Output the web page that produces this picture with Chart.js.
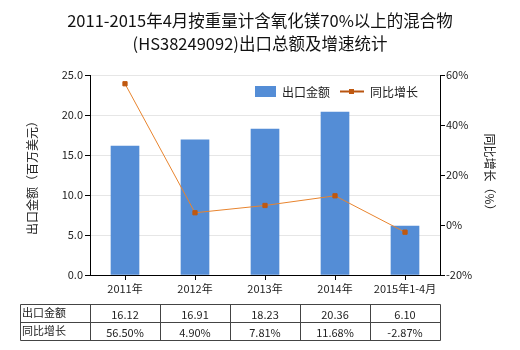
<!DOCTYPE html>
<html>
<head>
<meta charset="utf-8">
<script src="https://cdn.jsdelivr.net/npm/chart.js@4.4.1/dist/chart.umd.min.js"></script>
<style>
  html, body { margin: 0; padding: 0; background: #fff; }
  #wrap { width: 520px; height: 350px; position: relative; }
</style>
</head>
<body>
<div id="wrap"><canvas id="chart" width="520" height="350"></canvas></div>
<script>
const categories = ['2011年', '2012年', '2013年', '2014年', '2015年1-4月'];
const exportValues = [16.12, 16.91, 18.23, 20.36, 6.10];
const growthValues = [56.50, 4.90, 7.81, 11.68, -2.87];
const titleLines = ['2011-2015年4月按重量计含氧化镁70%以上的混合物', '(HS38249092)出口总额及增速统计'];
const seriesNames = ['出口金额', '同比增长'];

const FONT = '"Noto Sans CJK SC", "DejaVu Sans", sans-serif';
const BAR_COLOR = '#548dd6';
const LINE_COLOR = '#e8842e';
const POINT_COLOR = '#c0580f';

// title, legend and the data table under the axis
const extras = {
    id: 'extras',
    afterDraw(chart) {
        const ctx = chart.ctx;
        const x = chart.scales.x;
        ctx.save();

        ctx.fillStyle = '#111';
        ctx.font = '16.5px ' + FONT;
        ctx.textAlign = 'center';
        ctx.textBaseline = 'middle';
        ctx.fillText(titleLines[0], 260, 21);
        ctx.fillText(titleLines[1], 260, 44);

        // legend
        ctx.font = '12px ' + FONT;
        ctx.textAlign = 'left';
        ctx.fillStyle = BAR_COLOR;
        ctx.fillRect(255, 86, 21, 11);
        ctx.fillStyle = '#222';
        ctx.fillText(seriesNames[0], 282, 92);
        ctx.strokeStyle = '#b95510';
        ctx.lineWidth = 2;
        ctx.beginPath();
        ctx.moveTo(340, 91.5);
        ctx.lineTo(364, 91.5);
        ctx.stroke();
        ctx.fillStyle = POINT_COLOR;
        ctx.fillRect(349, 89, 5, 5);
        ctx.fillStyle = '#222';
        ctx.fillText(seriesNames[1], 370, 92);

        // table
        const top = 304.5, mid = 322.5, bottom = 340.5;
        const left = 20.5, step = x.getPixelForValue(1) - x.getPixelForValue(0);
        const right = Math.round(x.getPixelForValue(categories.length - 1) + step / 2) + 0.5;
        ctx.strokeStyle = '#444';
        ctx.lineWidth = 1;
        ctx.beginPath();
        [top, mid, bottom].forEach(y => { ctx.moveTo(left, y); ctx.lineTo(right, y); });
        ctx.moveTo(left, top); ctx.lineTo(left, bottom);
        for (let i = 0; i < categories.length; i++) {
            const cx = Math.round(x.getPixelForValue(i) - step / 2) + 0.5;
            ctx.moveTo(cx, top); ctx.lineTo(cx, bottom);
        }
        ctx.moveTo(right, top); ctx.lineTo(right, bottom);
        ctx.stroke();

        ctx.font = '11px ' + FONT;
        ctx.fillStyle = '#222';
        ctx.textAlign = 'left';
        ctx.fillText(seriesNames[0], 22, 313);
        ctx.fillText(seriesNames[1], 22, 331);
        ctx.textAlign = 'center';
        for (let i = 0; i < categories.length; i++) {
            const cx = x.getPixelForValue(i);
            ctx.fillText(exportValues[i].toFixed(2), cx, 315);
            ctx.fillText(growthValues[i].toFixed(2) + '%', cx, 333);
        }
        ctx.restore();
    }
};

new Chart(document.getElementById('chart'), {
    type: 'bar',
    data: {
        labels: categories,
        datasets: [
            {
                type: 'line',
                label: seriesNames[1],
                data: growthValues,
                yAxisID: 'y1',
                borderColor: LINE_COLOR,
                borderWidth: 1,
                pointStyle: 'rect',
                pointRadius: 3,
                pointBackgroundColor: POINT_COLOR,
                pointBorderColor: POINT_COLOR,
                tension: 0,
                order: 0,
            },
            {
                label: seriesNames[0],
                data: exportValues,
                yAxisID: 'y',
                backgroundColor: BAR_COLOR,
                barThickness: 28,
                order: 1,
            },
        ],
    },
    options: {
        responsive: false,
        animation: false,
        layout: { padding: { top: 75, bottom: 50, left: 0, right: 0 } },
        plugins: {
            legend: { display: false },
            tooltip: { enabled: false },
        },
        scales: {
            x: {
                afterFit: (scale) => { scale.height = 25; },
                grid: { display: true, drawOnChartArea: false, offset: false, tickLength: 5, tickColor: '#000' },
                border: { color: '#000' },
                ticks: { color: '#222', font: { family: FONT, size: 11 }, padding: 2, maxRotation: 0 },
            },
            y: {
                position: 'left',
                min: 0,
                max: 25,
                afterFit: (scale) => { scale.width = 90; },
                ticks: {
                    stepSize: 5,
                    color: '#222',
                    font: { family: FONT, size: 11 },
                    padding: 2,
                    callback: (v) => Number(v).toFixed(1),
                },
                grid: { color: '#e6e6e6', tickColor: '#000', tickLength: 5 },
                border: { color: '#000' },
                title: {
                    display: true,
                    text: '出口金额（百万美元）',
                    color: '#222',
                    font: { family: FONT, size: 12 },
                    padding: { top: 25 },
                },
            },
            y1: {
                position: 'right',
                min: -20,
                max: 60,
                afterFit: (scale) => { scale.width = 80; },
                ticks: {
                    stepSize: 20,
                    color: '#222',
                    font: { family: FONT, size: 11 },
                    padding: 1,
                    callback: (v) => v + '%',
                },
                grid: { drawOnChartArea: false, tickColor: '#000', tickLength: 5 },
                border: { color: '#000' },
                title: {
                    display: true,
                    text: '同比增长（%）',
                    color: '#222',
                    font: { family: FONT, size: 12 },
                    padding: { top: 23 },
                },
            },
        },
    },
    plugins: [extras],
});
</script>
</body>
</html>
